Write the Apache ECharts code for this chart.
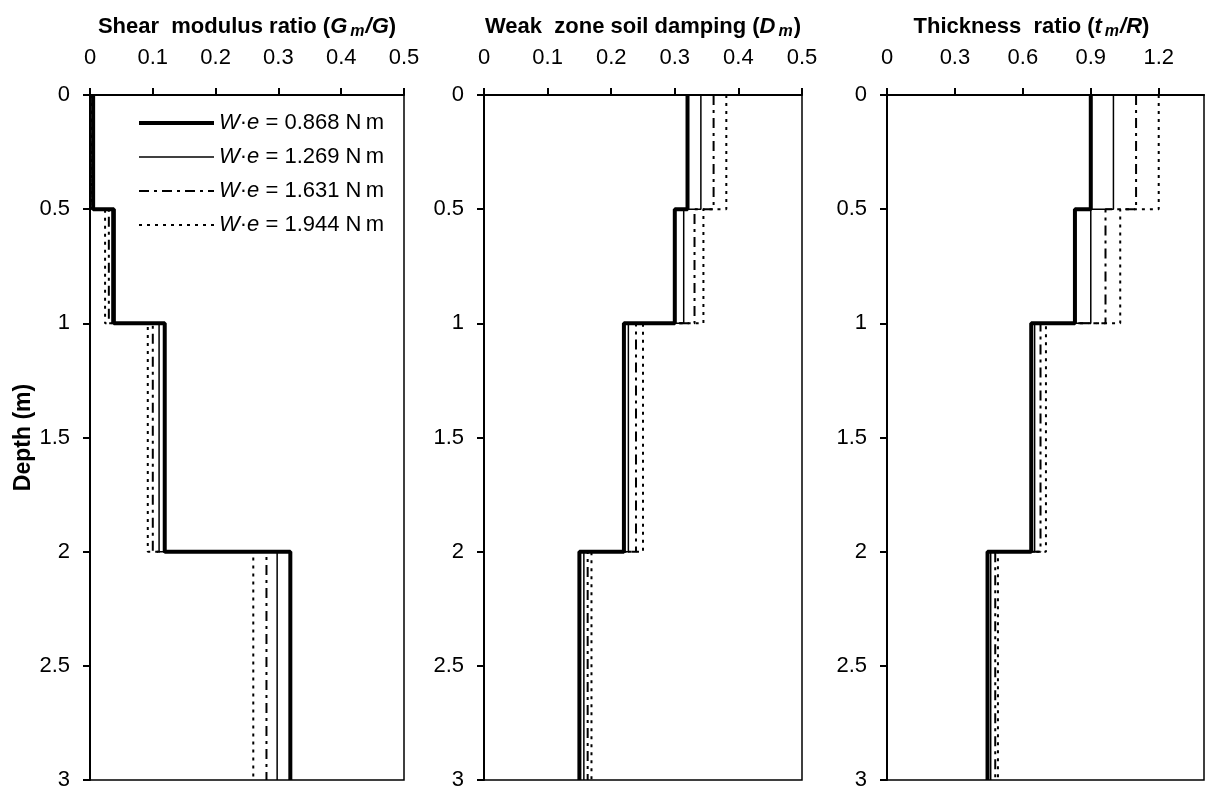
<!DOCTYPE html>
<html>
<head>
<meta charset="utf-8">
<script src="https://cdn.jsdelivr.net/npm/echarts@6/dist/echarts.min.js"></script>
<style>
html,body{margin:0;padding:0;background:#fff;}
#chart{width:1207px;height:791px;}
</style>
</head>
<body>
<div id="chart"></div>
<script>
// ---- Data ----
const depthBounds = [0, 0.5, 1, 2, 3];           // layer boundaries (m)
const weValues = ['0.868', '1.269', '1.631', '1.944']; // W·e (N m)

// Shear modulus ratio Gm/G per layer
const gm_0868 = [0.005, 0.038, 0.119, 0.319];
const gm_1269 = [0.004, 0.035, 0.110, 0.298];
const gm_1631 = [0.004, 0.030, 0.100, 0.281];
const gm_1944 = [0.003, 0.024, 0.092, 0.260];

// Weak zone soil damping Dm per layer
const dm_0868 = [0.320, 0.300, 0.220, 0.150];
const dm_1269 = [0.341, 0.314, 0.227, 0.157];
const dm_1631 = [0.361, 0.331, 0.239, 0.163];
const dm_1944 = [0.381, 0.345, 0.250, 0.169];

// Thickness ratio tm/R per layer
const tm_0868 = [0.900, 0.830, 0.637, 0.444];
const tm_1269 = [1.000, 0.900, 0.652, 0.458];
const tm_1631 = [1.100, 0.965, 0.678, 0.478];
const tm_1944 = [1.200, 1.030, 0.702, 0.490];

const xTicksGm = [0, 0.1, 0.2, 0.3, 0.4, 0.5];
const xTicksDm = [0, 0.1, 0.2, 0.3, 0.4, 0.5];
const xTicksTm = [0, 0.3, 0.6, 0.9, 1.2];

// ---- Build ----
const FONT = '"Liberation Sans", Arial, sans-serif';
const names = weValues.map(v => 'W·e = ' + v + ' Nm');
const lineStyles = [
  {color:'#000', width:4, type:'solid'},
  {color:'#000', width:1.5, type:'solid'},
  {color:'#000', width:2, type:[10,5,3,5]},
  {color:'#000', width:2, type:[3,5]}
];
function stepData(vals){
  const pts = [];
  for (let i = 0; i < vals.length; i++){
    pts.push([vals[i], depthBounds[i]]);
    pts.push([vals[i], depthBounds[i+1]]);
  }
  return pts;
}
const panels = [
  [gm_0868, gm_1269, gm_1631, gm_1944],
  [dm_0868, dm_1269, dm_1631, dm_1944],
  [tm_0868, tm_1269, tm_1631, tm_1944]
];
const series = [];
panels.forEach((sets, p) => {
  [3,2,1,0].forEach(k => {
    series.push({
      name: names[k], type:'line', xAxisIndex:p, yAxisIndex:p,
      data: stepData(sets[k]), symbol:'none', showSymbol:false,
      lineStyle: lineStyles[k], itemStyle:{color:'#000'},
      z: 3 + (3-k), animation:false, silent:true
    });
  });
});

const titleRich = {
  b:{fontFamily:FONT, fontSize:22, fontWeight:'bold', color:'#000'},
  i:{fontFamily:FONT, fontSize:22, fontWeight:'bold', fontStyle:'italic', color:'#000'},
  s:{fontFamily:FONT, fontSize:16, fontWeight:'bold', fontStyle:'italic', color:'#000', padding:[11,1,0,3]}
};
const titles = [
  '{b|Shear  modulus ratio (}{i|G}{s|m}{i|/G}{b|)}',
  '{b|Weak  zone soil damping (}{i|D}{s|m}{b|)}',
  '{b|Thickness  ratio (}{i|t}{s|m}{i|/R}{b|)}'
];
const titlePad = [[0,0,0,0],[0,0,0,0],[0,28,0,0]];
const xMax = [xTicksGm[xTicksGm.length-1], xTicksDm[xTicksDm.length-1], 1.4];
const xInt = [xTicksGm[1]-xTicksGm[0], xTicksDm[1]-xTicksDm[0], xTicksTm[1]-xTicksTm[0]];
const grids = [
  {left:90, top:95, width:314, height:685},
  {left:484, top:95, width:318, height:685},
  {left:887, top:95, width:317, height:685}
].map(g => Object.assign(g, {show:true, borderColor:'#000', borderWidth:1.5, containLabel:false}));

const xAxes = [0,1,2].map(p => ({
  type:'value', gridIndex:p, position:'top', min:0, max:xMax[p], interval:xInt[p],
  axisLine:{show:true, onZero:false, lineStyle:{color:'#000', width:2}},
  axisTick:{show:true, inside:false, length:7, lineStyle:{color:'#000', width:2}},
  axisLabel:{show:true, color:'#000', fontFamily:FONT, fontSize:22, margin:26, showMaxLabel: p !== 2},
  splitLine:{show:false},
  name: titles[p], nameLocation:'middle', nameGap:55,
  nameTextStyle:{rich:titleRich, padding:titlePad[p]}
}));
const yAxes = [0,1,2].map(p => ({
  type:'value', gridIndex:p, inverse:true, min:depthBounds[0], max:depthBounds[depthBounds.length-1], interval:0.5,
  axisLine:{show:true, onZero:false, lineStyle:{color:'#000', width:2}},
  axisTick:{show:true, inside:false, length:7, lineStyle:{color:'#000', width:2}},
  axisLabel:{show:true, color:'#000', fontFamily:FONT, fontSize:22, margin:20},
  splitLine:{show:false},
  name: p === 0 ? 'Depth (m)' : '', nameLocation:'middle', nameGap:53,
  nameTextStyle:{fontFamily:FONT, fontSize:23, fontWeight:'bold', color:'#000'}
}));

const chart = echarts.init(document.getElementById('chart'), null, {renderer:'canvas'});
chart.setOption({
  backgroundColor:'#fff',
  animation:false,
  grid: grids,
  xAxis: xAxes,
  yAxis: yAxes,
  legend:{
    data: names, orient:'vertical', left:137, top:112, padding:0,
    itemWidth:75, itemHeight:14, itemGap:12,
    itemStyle:{color:'rgba(0,0,0,0)', borderColor:'rgba(0,0,0,0)', borderWidth:0, opacity:0},
    lineStyle:{width:'inherit', type:'inherit', color:'#000', opacity:1},
    textStyle:{fontFamily:FONT, fontSize:22, color:'#000',
      rich:{i:{fontFamily:FONT, fontSize:22, fontStyle:'italic', color:'#000'}, t:{fontFamily:FONT, fontSize:22, color:'#000'}}},
    formatter: function(name){
      const v = name.replace('W·e = ','').replace(' Nm','');
      return '{i|W}{t|·}{i|e}{t| = ' + v + ' N\u2009m}';
    },
    selectedMode:false
  },
  series: series
});
</script>
</body>
</html>
